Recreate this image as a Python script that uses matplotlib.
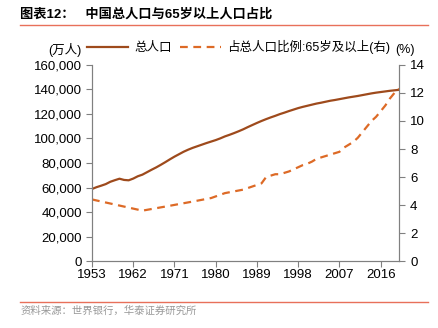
import matplotlib
matplotlib.use("Agg")
import matplotlib.pyplot as plt
from matplotlib.lines import Line2D

plt.rcParams['font.family'] = ['Liberation Sans', 'Noto Sans CJK SC']
plt.rcParams['axes.unicode_minus'] = False

# total population, 10k persons, 1953-2020
years = list(range(1953, 2021))
total = [58800, 60300, 61500, 62800, 64700, 66000, 67200, 66200, 65900, 67300,
         69200, 70500, 72500, 74500, 76400, 78500, 80700, 83000, 85200, 87200,
         89200, 90900, 92400, 93700, 95000, 96300, 97500, 98700, 100100, 101700,
         103000, 104400, 105900, 107500, 109300, 111000, 112700, 114300, 115800, 117200,
         118500, 119900, 121100, 122400, 123600, 124800, 125800, 126700, 127600, 128500,
         129200, 130000, 130800, 131400, 132100, 132800, 133500, 134100, 134700, 135400,
         136100, 136800, 137400, 137900, 138400, 138900, 139300, 139700]

# share of 65+ in total population, %
ratio_years = [1953, 1964, 1970, 1975, 1979, 1982, 1986, 1990,
               1991, 1992, 1993, 1994, 1995, 1996, 1997, 1998, 1999, 2000,
               2001, 2002, 2003, 2004, 2005, 2006, 2007, 2008, 2009, 2010,
               2011, 2012, 2013, 2014, 2015, 2016, 2017, 2018, 2019, 2020]
ratio = [4.4, 3.6, 3.95, 4.25, 4.5, 4.85, 5.1, 5.55,
         6.0, 6.1, 6.2, 6.2, 6.3, 6.4, 6.55, 6.7, 6.85, 6.95,
         7.1, 7.3, 7.4, 7.5, 7.6, 7.7, 7.8, 8.1, 8.3, 8.5,
         8.8, 9.2, 9.6, 10.0, 10.3, 10.7, 11.1, 11.6, 12.0, 12.3]

xticks = [1953, 1962, 1971, 1980, 1989, 1998, 2007, 2016]

brown = '#9E4A1C'
orange = '#DD6A26'
red = '#E8705A'
gray = '#808080'

fig = plt.figure(figsize=(4.38, 3.28), dpi=100)
ax = fig.add_axes([0.21, 0.204, 0.701, 0.598])
ax2 = ax.twinx()

ax.plot(years, total, color=brown, lw=1.6)
ax2.plot(ratio_years, ratio, color=orange, lw=1.6, ls=(0, (3.5, 2.5)))

ax.set_xlim(1953, 2020)
ax.set_ylim(0, 160000)
ax2.set_ylim(0, 14)
ax.set_yticks(range(0, 160001, 20000))
ax.set_yticklabels([f'{v:,}' for v in range(0, 160001, 20000)])
ax2.set_yticks(range(0, 15, 2))
ax.set_xticks(xticks)

for a in (ax, ax2):
    a.spines['top'].set_visible(False)
    for s in ('left', 'right', 'bottom'):
        a.spines[s].set_color(gray)
    a.tick_params(colors=gray, labelcolor='black', labelsize=9.5, length=4, width=0.8)
ax.tick_params(axis='y', pad=3)
ax2.tick_params(axis='y', pad=4)
ax.tick_params(axis='x', pad=2)

# legend
handles = [Line2D([], [], color=brown, lw=1.6),
           Line2D([], [], color=orange, lw=1.6, ls=(0, (3.5, 2.5)))]
fig.legend(handles, ['总人口', '占总人口比例:65岁及以上(右)'], loc='center',
           bbox_to_anchor=(0.545, 0.857), ncol=2, frameon=False, fontsize=9,
           handlelength=3.3, handletextpad=0.5, columnspacing=0.6)
fig.text(0.147, 0.848, '(万人)', fontsize=9, ha='center', va='center')
fig.text(0.925, 0.848, '(%)', fontsize=9, ha='center', va='center')

# header and footer
fig.text(0.046, 0.955, '图表12：   中国总人口与65岁以上人口占比', fontsize=9.5,
         fontweight='bold', ha='left', va='center')
fig.add_artist(Line2D([0.046, 0.977], [0.924, 0.924], color=red, lw=1.0))
fig.add_artist(Line2D([0.046, 0.977], [0.079, 0.079], color=red, lw=1.0))
fig.text(0.046, 0.052, '资料来源：世界银行，华泰证券研究所', fontsize=7.5,
         color='#999999', ha='left', va='center')

fig.savefig('out.png', dpi=100)
